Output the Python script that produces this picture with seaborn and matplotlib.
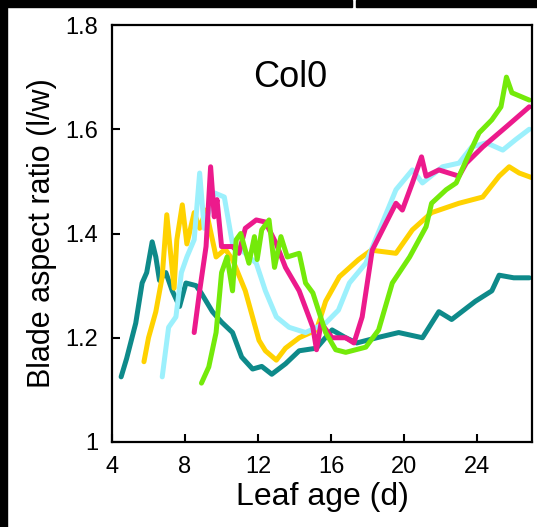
import matplotlib
matplotlib.use("Agg")
import matplotlib.pyplot as plt
import seaborn as sns
import pandas as pd
from matplotlib.patches import Rectangle

# ---- data ----
teal_x = [4.5, 4.8, 5.3, 5.65, 5.9, 6.2, 6.4, 6.6, 6.95, 7.3, 7.7, 8.05, 8.6, 8.9, 9.5, 10.0,
          10.6, 11.1, 11.7, 12.2, 12.75, 13.5, 14.25, 15.2, 16.05, 16.8, 17.4, 18.5, 19.7,
          21.0, 21.9, 22.6, 23.9, 24.8, 25.2, 26.0, 26.85]
teal_y = [1.125, 1.16, 1.228, 1.305, 1.325, 1.384, 1.355, 1.31, 1.325, 1.29, 1.26, 1.305, 1.30,
          1.285, 1.25, 1.23, 1.21, 1.163, 1.14, 1.145, 1.13, 1.15, 1.175, 1.18, 1.215, 1.20,
          1.19, 1.20, 1.21, 1.20, 1.25, 1.235, 1.27, 1.29, 1.32, 1.315, 1.315]

gold_x = [5.75, 6.0, 6.4, 6.75, 7.0, 7.4, 7.55, 7.85, 8.1, 8.5, 8.8, 9.15, 9.7, 10.2, 10.6,
          11.3, 12.05, 12.4, 13.0, 13.5, 14.25, 15.2, 15.7, 16.45, 17.5, 18.2, 19.55, 20.45,
          21.5, 23.0, 24.3, 25.2, 25.75, 26.3, 27.0]
gold_y = [1.154, 1.20, 1.25, 1.317, 1.436, 1.295, 1.388, 1.455, 1.38, 1.44, 1.41, 1.445, 1.355,
          1.37, 1.35, 1.29, 1.195, 1.175, 1.157, 1.18, 1.20, 1.215, 1.27, 1.317, 1.35, 1.368,
          1.362, 1.407, 1.44, 1.458, 1.47, 1.51, 1.528, 1.516, 1.507]

cyan_x = [6.75, 7.1, 7.5, 7.8, 8.1, 8.5, 8.8, 9.05, 9.6, 10.15, 10.6, 11.1, 11.9, 12.4, 13.0,
          13.7, 14.6, 15.7, 16.4, 17.0, 17.9, 18.8, 19.55, 20.45, 21.0, 22.1, 23.0, 23.7, 24.5,
          25.4, 26.1, 26.85]
cyan_y = [1.125, 1.22, 1.24, 1.325, 1.355, 1.388, 1.516, 1.41, 1.478, 1.47, 1.38, 1.368, 1.343,
          1.29, 1.24, 1.22, 1.21, 1.228, 1.253, 1.305, 1.343, 1.42, 1.484, 1.522, 1.497, 1.528,
          1.535, 1.566, 1.574, 1.56, 1.58, 1.60]

pink_x = [8.5, 8.8, 9.15, 9.4, 9.6, 9.75, 10.0, 10.6, 10.95, 11.3, 11.9, 12.4, 13.0, 13.5,
          14.25, 15.0, 15.2, 15.45, 16.05, 16.8, 17.25, 17.7, 18.25, 19.0, 19.55, 19.9, 20.45,
          20.95, 21.2, 21.9, 23.0, 23.4, 24.3, 25.6, 26.85]
pink_y = [1.21, 1.29, 1.375, 1.528, 1.432, 1.465, 1.375, 1.375, 1.362, 1.41, 1.426, 1.422, 1.38,
          1.335, 1.29, 1.22, 1.177, 1.228, 1.20, 1.20, 1.19, 1.24, 1.368, 1.42, 1.458, 1.445,
          1.497, 1.547, 1.51, 1.522, 1.51, 1.535, 1.566, 1.605, 1.643]

green_x = [8.9, 9.3, 9.7, 10.0, 10.3, 10.6, 10.8, 11.05, 11.3, 11.5, 11.8, 11.95, 12.2, 12.6,
           12.9, 13.25, 13.6, 14.25, 14.6, 15.0, 15.7, 16.25, 16.8, 17.9, 18.6, 19.35, 20.3,
           21.2, 21.5, 22.3, 22.85, 23.4, 24.1, 24.8, 25.3, 25.6, 25.9, 26.85]
green_y = [1.113, 1.144, 1.21, 1.325, 1.355, 1.29, 1.388, 1.40, 1.368, 1.343, 1.394, 1.35, 1.407,
           1.426, 1.335, 1.394, 1.355, 1.362, 1.305, 1.286, 1.21, 1.177, 1.172, 1.182, 1.215,
           1.305, 1.355, 1.413, 1.458, 1.484, 1.497, 1.541, 1.593, 1.618, 1.643, 1.70, 1.67, 1.656]

series_names = ["teal", "gold", "cyan", "pink", "green"]
series_colors = ["#0e8a8a", "#ffd200", "#9cf0fc", "#ec1a8c", "#74ea0a"]
x_ticks = [4, 8, 12, 16, 20, 24]
y_ticks = [1.0, 1.2, 1.4, 1.6, 1.8]
y_ticklabels = ["1", "1.2", "1.4", "1.6", "1.8"]

frames = []
for name, xs, ys in zip(series_names,
                        [teal_x, gold_x, cyan_x, pink_x, green_x],
                        [teal_y, gold_y, cyan_y, pink_y, green_y]):
    frames.append(pd.DataFrame({"age": xs, "ratio": ys, "leaf": name}))
df = pd.concat(frames, ignore_index=True)

sns.set_style("white")
plt.rcParams["font.family"] = ["Liberation Sans", "DejaVu Sans"]
plt.rcParams["text.color"] = "black"
plt.rcParams["axes.labelcolor"] = "black"
plt.rcParams["xtick.color"] = "black"
plt.rcParams["ytick.color"] = "black"

fig = plt.figure(figsize=(5.37, 5.27), dpi=100)
ax = fig.add_axes([112 / 537, 1 - 442 / 527, 420 / 537, 417 / 527])

sns.lineplot(data=df, x="age", y="ratio", hue="leaf", palette=dict(zip(series_names, series_colors)),
             hue_order=series_names, sort=False, estimator=None, linewidth=3.6,
             legend=False, ax=ax)

ax.set_xlim(4, 27)
ax.set_ylim(1.0, 1.8)
ax.set_xticks(x_ticks)
ax.set_yticks(y_ticks)
ax.set_yticklabels(y_ticklabels)
ax.tick_params(direction="in", length=6, width=1.5, labelsize=17, pad=10,
               top=False, right=False, bottom=True, left=True,
               colors="black", labelcolor="black")
for s in ax.spines.values():
    s.set_visible(True)
    s.set_color("black")
    s.set_linewidth(1.6)

ax.set_xlabel("Leaf age (d)", fontsize=23, labelpad=3, color="black")
ax.set_ylabel("Blade aspect ratio (l/w)", fontsize=22, labelpad=6, color="black")
ax.text(0.424, 0.873, "Col0", transform=ax.transAxes, fontsize=26, ha="center", va="center",
        color="black")

# black crop borders as in the reference
fig.patches.append(Rectangle((0, 0), 7 / 537, 1, transform=fig.transFigure, color="black", zorder=-1))
fig.patches.append(Rectangle((0, 1 - 7 / 527), 352 / 537, 7 / 527, transform=fig.transFigure, color="black", zorder=-1))
fig.patches.append(Rectangle((356 / 537, 1 - 7 / 527), 1 - 356 / 537, 7 / 527, transform=fig.transFigure, color="black", zorder=-1))

fig.savefig("out.png", dpi=100, facecolor="white")
